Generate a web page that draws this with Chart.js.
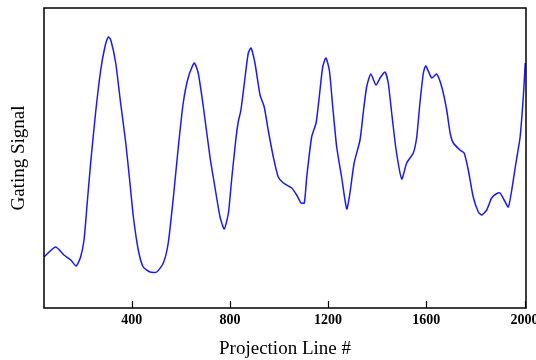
<!DOCTYPE html>
<html>
<head>
<meta charset="utf-8">
<script src="https://cdn.jsdelivr.net/npm/chart.js@4"></script>
<style>
  body { margin: 0; background: #fff; }
  #conteneur { width: 536px; height: 360px; }
</style>
</head>
<body>
<div id="conteneur"><canvas id="signal"></canvas></div>
<script>
// les données
const projectionLines = [43, 90, 124, 152, 174, 192, 206, 219, 233, 253, 274, 291, 305, 315, 335, 355, 376, 393, 407, 427, 447, 475, 502, 529, 549, 570, 590, 610, 631, 655, 671, 692, 719, 739, 760, 777, 794, 807, 824, 834, 845, 862, 875, 886, 902, 923, 940, 956, 977, 997, 1018, 1052, 1072, 1090, 1103, 1113, 1133, 1151, 1164, 1178, 1191, 1205, 1219, 1235, 1255, 1276, 1289, 1306, 1330, 1343, 1357, 1374, 1395, 1414, 1432, 1445, 1459, 1477, 1500, 1520, 1547, 1561, 1574, 1588, 1598, 1622, 1642, 1663, 1683, 1697, 1710, 1737, 1754, 1771, 1791, 1812, 1826, 1846, 1866, 1884, 1900, 1917, 1934, 1948, 1965, 1982, 1995, 2003];
const gatingSignal = [51, 61, 53, 48, 42, 51, 68, 105, 145, 195, 238, 261, 271, 268, 245, 205, 165, 125, 91, 58, 41, 36, 36, 45, 65, 111, 161, 205, 231, 245, 235, 201, 151, 121, 91, 79, 95, 128, 168, 186, 198, 231, 255, 260, 245, 213, 201, 178, 151, 131, 125, 120, 113, 105, 105, 131, 171, 185, 211, 241, 250, 238, 201, 161, 131, 99, 115, 145, 168, 195, 221, 234, 223, 231, 236, 225, 195, 158, 129, 145, 155, 171, 205, 235, 242, 230, 234, 221, 198, 175, 165, 158, 155, 138, 111, 96, 93, 98, 110, 114, 115, 108, 101, 118, 145, 171, 211, 245];
const xTicks = [400, 800, 1200, 1600, 2000];

const points = projectionLines.map((x, i) => ({ x: x, y: gatingSignal[i] }));

// cadre noir + petits traits vers l'intérieur
const cadre = {
  id: 'cadre',
  afterDatasetsDraw(chart) {
    const { ctx, chartArea: a, scales } = chart;
    ctx.save();
    ctx.strokeStyle = '#000';
    ctx.lineWidth = 1.5;
    ctx.strokeRect(a.left, a.top, a.right - a.left, a.bottom - a.top);
    ctx.lineWidth = 1.2;
    xTicks.forEach(v => {
      const px = Math.round(scales.x.getPixelForValue(v)) + 0.5;
      ctx.beginPath();
      ctx.moveTo(px, a.bottom);
      ctx.lineTo(px, a.bottom - 7);
      ctx.stroke();
    });
    ctx.restore();
  }
};

const police = "'Liberation Serif', 'Times New Roman', serif";

new Chart(document.getElementById('signal'), {
  type: 'line',
  data: {
    datasets: [{
      data: points,
      borderColor: 'rgb(25, 25, 255)',
      borderWidth: 1.5,
      pointRadius: 0,
      tension: 0.2,
      fill: false
    }]
  },
  options: {
    responsive: true,
    maintainAspectRatio: false,
    animation: false,
    layout: { padding: { left: 0, right: 10, top: 8, bottom: 0 } },
    plugins: { legend: { display: false }, tooltip: { enabled: false } },
    scales: {
      x: {
        type: 'linear',
        min: 43,
        max: 2006,
        afterBuildTicks: scale => { scale.ticks = xTicks.map(v => ({ value: v })); },
        afterFit: scale => {
          scale.height = 52;
          scale.paddingLeft = 0;
          scale.paddingRight = 0;
        },
        grid: { display: false, drawTicks: false },
        border: { display: false },
        ticks: {
          color: '#000',
          padding: 4,
          maxRotation: 0,
          callback: v => String(v),
          font: { family: police, size: 14, weight: 'bold' }
        },
        title: {
          display: true,
          text: 'Projection Line #',
          color: '#000',
          padding: { top: 4, bottom: 0 },
          font: { family: police, size: 19 }
        }
      },
      y: {
        min: 0,
        max: 300,
        afterFit: scale => { scale.width = 44; },
        grid: { display: false, drawTicks: false },
        border: { display: false },
        ticks: { display: false },
        title: {
          display: true,
          text: 'Gating Signal',
          color: '#000',
          padding: { top: 8, bottom: 0 },
          font: { family: police, size: 19 }
        }
      }
    }
  },
  plugins: [cadre]
});
</script>
</body>
</html>
